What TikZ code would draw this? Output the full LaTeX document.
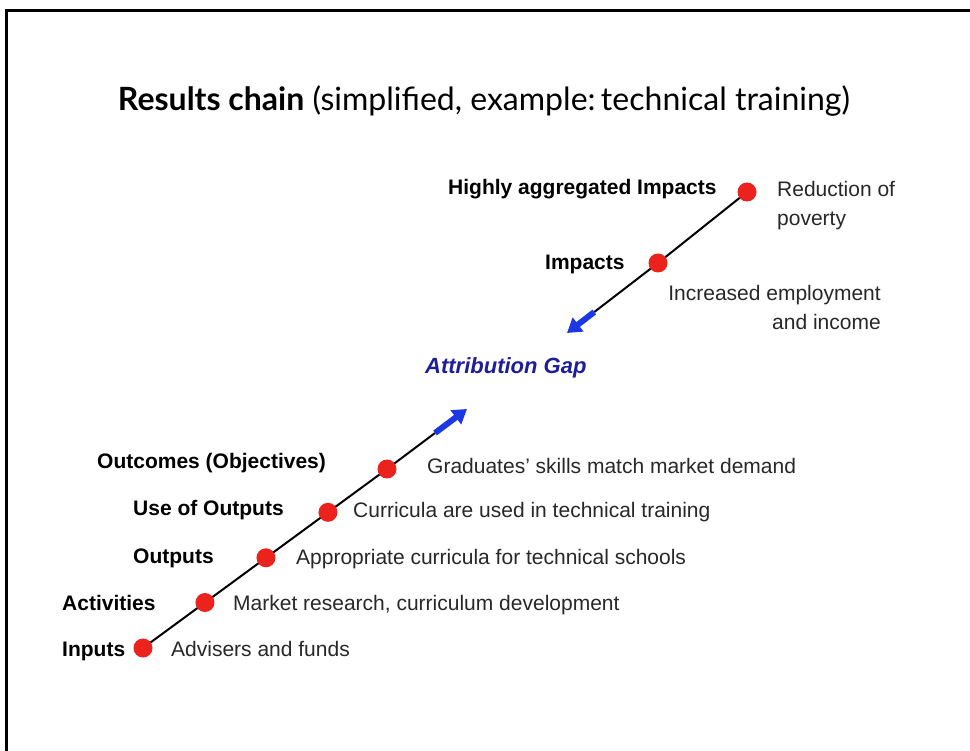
\documentclass[tikz,border=0pt]{standalone}
\usepackage{graphicx}
\usepackage{fontspec}
\setmainfont{Liberation Sans}
\newfontfamily\titlefont{Lato}
\usetikzlibrary{arrows.meta,calc,backgrounds}
\definecolor{dotred}{RGB}{236,34,28}
\definecolor{arrowblue}{RGB}{28,56,228}
\definecolor{gapblue}{RGB}{30,30,150}
\definecolor{desc}{RGB}{40,40,40}
\begin{document}
\begin{tikzpicture}[x=1pt,y=-1pt,
  dot/.style={circle,fill=dotred,inner sep=0pt,minimum size=19pt},
  lbl/.style={anchor=base west,inner sep=0pt,font=\fontsize{21}{25}\selectfont\bfseries},
  dsc/.style={anchor=base west,inner sep=0pt,text=desc,font=\fontsize{21}{29}\selectfont},
  chainline/.style={line width=2pt,black},
  gaparrow/.style={line width=6pt,arrowblue,-{Triangle[width=17pt,length=14pt]}},
  frameline/.style={line width=3pt,black}
]
\useasboundingbox (0,0) rectangle (970,751);
% title
\node[anchor=base,inner sep=0pt] (title) at (484,111)
  {\resizebox{732pt}{!}{\titlefont\fontsize{30}{36}\selectfont\textbf{Results chain} (simplified, example:\,technical training)}};
% upper chain
\node[dot] (ha) at (747,192) {};
\node[dot] (imp) at (658,263) {};
\coordinate (uptip) at (567,333);
\coordinate (upblue) at ($(imp)!0.70!(uptip)$);
% lower chain
\node[dot] (inp) at (143,648) {};
\coordinate (outcpos) at (387,469);
\node[dot] (act) at ($(inp)!0.254!(outcpos)$) {};
\node[dot] (outp) at ($(inp)!0.504!(outcpos)$) {};
\node[dot] (use) at ($(inp)!0.758!(outcpos)$) {};
\node[dot] (outc) at (outcpos) {};
\coordinate (lowtip) at (467,409);
\coordinate (lowblue) at ($(outc)!0.6!(lowtip)$);
\begin{scope}[on background layer]
  \fill[white] (0,0) rectangle (970,751);
  \draw[frameline] (970,10.5) -- (6.5,10.5) -- (6.5,751);
  \draw[chainline] (ha.center) -- (imp.center) -- (upblue);
  \draw[chainline] (inp.center) -- (outc.center) -- (lowblue);
\end{scope}
\draw[gaparrow] (upblue) -- (uptip);
\draw[gaparrow] (lowblue) -- (lowtip);
% labels
\node[lbl] (l-ha) at (448,195) {Highly aggregated Impacts};
\node[lbl] (l-imp) at (545,270) {Impacts};
\node[lbl] (l-outc) at (97,468) {Outcomes (Objectives)};
\node[lbl] (l-use) at (133,515) {Use of Outputs};
\node[lbl] (l-outp) at (133,563) {Outputs};
\node[lbl] (l-act) at (62,610) {Activities};
\node[lbl] (l-inp) at (62,656) {Inputs};
% descriptions
\node[dsc,anchor=north west,align=left] (d-ha) at (777,181) {Reduction of\\poverty};
\node[dsc,anchor=north east,align=right] (d-imp) at (881,285) {Increased employment\\and income};
\node[dsc] (d-outc) at (427,473) {Graduates' skills match market demand};
\node[dsc] (d-use) at (353,517) {Curricula are used in technical training};
\node[dsc] (d-outp) at (296,564) {Appropriate curricula for technical schools};
\node[dsc] (d-act) at (233,610) {Market research, curriculum development};
\node[dsc] (d-inp) at (171,656) {Advisers and funds};
% gap
\node[anchor=base west,inner sep=0pt,text=gapblue,font=\fontsize{22}{26}\selectfont\bfseries\itshape] (gap) at (425,374) {Attribution Gap};
\end{tikzpicture}
\end{document}
